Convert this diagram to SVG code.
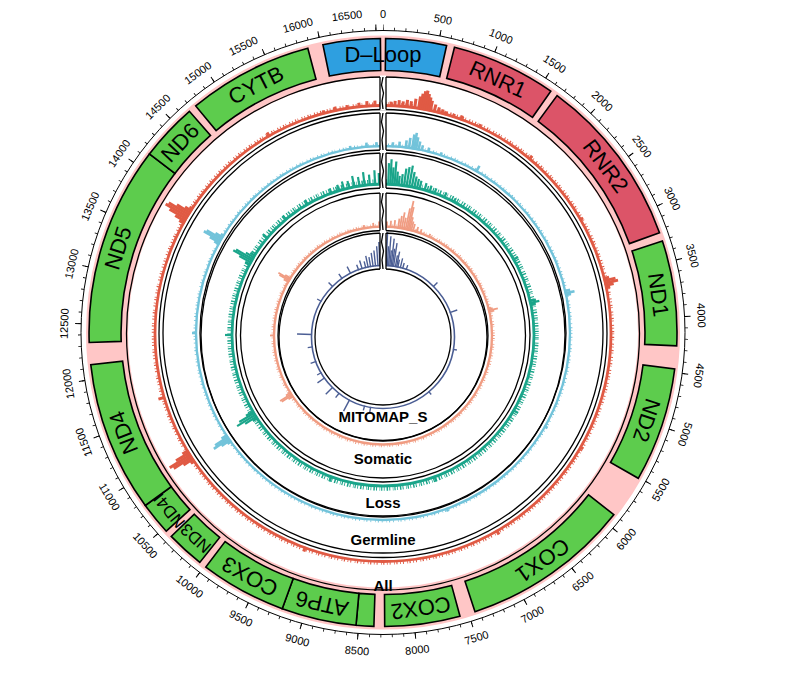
<svg xmlns="http://www.w3.org/2000/svg" width="809" height="673" viewBox="0 0 809 673">
<style>
text{font-family:"Liberation Sans",Arial,sans-serif;fill:#000}
.gene{stroke:#000;stroke-width:1.6}
.g{fill:#5dcc4d}.r{fill:#dc5468}.b{fill:#2e9fe0}
.gl{font-size:22px;text-anchor:middle;dominant-baseline:central}
.gs{font-size:17px;text-anchor:middle;dominant-baseline:central}
.tl{font-size:11px;text-anchor:middle;dominant-baseline:central}
.trk{fill:none;stroke:#000;stroke-width:1.3}
.lab{font-size:15px;font-weight:bold;text-anchor:middle}
.c1{stroke:#e05a44;fill:none}.c2{stroke:#72c3da;fill:none}.c3{stroke:#1aa58a;fill:none}.c4{stroke:#f09c82;fill:none}.c5{stroke:#4b5e94;fill:none}
.b1 path{stroke:#e05a44;stroke-width:3}.b2 path{stroke:#72c3da;stroke-width:2.6}.b3 path{stroke:#1aa58a;stroke-width:2.2}.b4 path{stroke:#f09c82;stroke-width:1.8}.b5 path{stroke:#4b5e94;stroke-width:1.4}
.gap{fill:#fff}
.edge{stroke:#000;stroke-width:1.3;fill:none}
</style>
<rect width="809" height="673" fill="#fff"/>

<g id="ticks" transform="translate(383,332.5)">
<circle r="276" fill="none" stroke="#ffc6c6" stroke-width="42"/>
<circle r="302" fill="none" stroke="#000" stroke-width="1"/>
<circle r="303.5" fill="none" stroke="#000" stroke-width="3" stroke-dasharray="0.8 10.709" stroke-dashoffset="0.4" transform="rotate(-90)"/>
<circle r="305" fill="none" stroke="#000" stroke-width="6" stroke-dasharray="1 56.83" stroke-dashoffset="0.5" transform="rotate(-90)"/>
<text class="tl" transform="rotate(0) translate(0,-319)">0</text>
<text class="tl" transform="rotate(10.86) translate(0,-319)">500</text>
<text class="tl" transform="rotate(21.73) translate(0,-319)">1000</text>
<text class="tl" transform="rotate(32.59) translate(0,-319)">1500</text>
<text class="tl" transform="rotate(43.45) translate(0,-319)">2000</text>
<text class="tl" transform="rotate(54.32) translate(0,-319)">2500</text>
<text class="tl" transform="rotate(65.18) translate(0,-319)">3000</text>
<text class="tl" transform="rotate(76.05) translate(0,-319)">3500</text>
<text class="tl" transform="rotate(86.91) translate(0,-319)">4000</text>
<text class="tl" transform="rotate(97.77) translate(0,-319)">4500</text>
<text class="tl" transform="rotate(108.64) translate(0,-319)">5000</text>
<text class="tl" transform="rotate(119.5) translate(0,-319) rotate(180)">5500</text>
<text class="tl" transform="rotate(130.36) translate(0,-319) rotate(180)">6000</text>
<text class="tl" transform="rotate(141.23) translate(0,-319) rotate(180)">6500</text>
<text class="tl" transform="rotate(152.09) translate(0,-319) rotate(180)">7000</text>
<text class="tl" transform="rotate(162.95) translate(0,-319) rotate(180)">7500</text>
<text class="tl" transform="rotate(173.82) translate(0,-319) rotate(180)">8000</text>
<text class="tl" transform="rotate(184.68) translate(0,-319) rotate(180)">8500</text>
<text class="tl" transform="rotate(195.55) translate(0,-319) rotate(180)">9000</text>
<text class="tl" transform="rotate(206.41) translate(0,-319) rotate(180)">9500</text>
<text class="tl" transform="rotate(217.27) translate(0,-319) rotate(180)">10000</text>
<text class="tl" transform="rotate(228.14) translate(0,-319) rotate(180)">10500</text>
<text class="tl" transform="rotate(239.0) translate(0,-319) rotate(180)">11000</text>
<text class="tl" transform="rotate(249.86) translate(0,-319)">11500</text>
<text class="tl" transform="rotate(260.73) translate(0,-319)">12000</text>
<text class="tl" transform="rotate(271.59) translate(0,-319)">12500</text>
<text class="tl" transform="rotate(282.45) translate(0,-319)">13000</text>
<text class="tl" transform="rotate(293.32) translate(0,-319)">13500</text>
<text class="tl" transform="rotate(304.18) translate(0,-319)">14000</text>
<text class="tl" transform="rotate(315.05) translate(0,-319)">14500</text>
<text class="tl" transform="rotate(324.5) translate(0,-319)">15000</text>
<text class="tl" transform="rotate(334) translate(0,-319)">15500</text>
<text class="tl" transform="rotate(344.5) translate(0,-319)">16000</text>
<text class="tl" transform="rotate(353.5) translate(0,-319)">16500</text>
</g>

<g id="genes" transform="translate(383,332.5)">
<g id="gene-dloop"><path class="gene b" d="M-60.1,-287.8A294,294 0 0 1 -2.6,-294L-2.3,-262A262,262 0 0 0 -53.6,-256.5Z"/><path class="gene b" d="M2.6,-294A294,294 0 0 1 63.6,-287L56.7,-255.8A262,262 0 0 0 2.3,-262Z"/><text class="gl" transform="translate(0,-278)">D–Loop</text></g>
<g id="gene-rnr1"><path class="gene r" d="M71.5,-285.2A294,294 0 0 1 167.8,-241.4L149.5,-215.2A262,262 0 0 0 63.7,-254.1Z"/><text class="gl" transform="rotate(24.4) translate(0,-278)">RNR1</text></g>
<g id="gene-rnr2"><path class="gene r" d="M174.1,-236.9A294,294 0 0 1 276.5,-99.8L246.4,-88.9A262,262 0 0 0 155.2,-211.1Z"/><text class="gl" transform="rotate(53.2) translate(0,-278)">RNR2</text></g>
<g id="gene-nd1"><path class="gene g" d="M279.4,-91.6A294,294 0 0 1 293.7,13.3L261.7,11.9A262,262 0 0 0 249,-81.6Z"/><text class="gl" transform="rotate(82.2) translate(0,-278)">ND1</text></g>
<g id="gene-nd2"><path class="gene g" d="M291.7,36.5A294,294 0 0 1 255.3,145.8L227.5,130A262,262 0 0 0 260,32.5Z"/><text class="gl" transform="rotate(108.4) translate(0,-278)">ND2</text></g>
<g id="gene-cox1"><path class="gene g" d="M230.8,182.2A294,294 0 0 1 92,279.2L82,248.8A262,262 0 0 0 205.6,162.3Z"/><text class="gl" transform="rotate(145) translate(0,-278)">COX1</text></g>
<g id="gene-cox2"><path class="gene g" d="M77,283.7A294,294 0 0 1 1.7,294L1.5,262A262,262 0 0 0 68.6,252.9Z"/><text class="gl" transform="rotate(172.2) translate(0,-278)">COX2</text></g>
<g id="gene-atp8"><path class="gene g" d="M-9.1,293.9A294,294 0 0 1 -27,292.8L-24.1,260.9A262,262 0 0 0 -8.1,261.9Z"/></g>
<g id="gene-atp6"><path class="gene g" d="M-27,292.8A294,294 0 0 1 -100.8,276.2L-89.8,246.1A262,262 0 0 0 -24.1,260.9Z"/><text class="gl" transform="rotate(192.7) translate(0,-278)">ATP6</text></g>
<g id="gene-cox3"><path class="gene g" d="M-100.8,276.2A294,294 0 0 1 -177.2,234.6L-157.9,209.1A262,262 0 0 0 -89.8,246.1Z"/><text class="gl" transform="rotate(208.6) translate(0,-278)">COX3</text></g>
<g id="gene-nd3"><path class="gene g" d="M-183.2,229.9A294,294 0 0 1 -211.8,203.9L-188.7,181.7A262,262 0 0 0 -163.3,204.9Z"/><text class="gs" transform="rotate(222.3) translate(0,-278)">ND3</text></g>
<g id="gene-nd4l"><path class="gene g" d="M-216.7,198.7A294,294 0 0 1 -237.7,173L-211.8,154.2A262,262 0 0 0 -193.1,177.1Z"/><text class="gs" transform="rotate(230.7) translate(0,-278)">ND4L</text></g>
<g id="gene-nd4"><path class="gene g" d="M-237.7,173A294,294 0 0 1 -292.2,32.3L-260.4,28.7A262,262 0 0 0 -211.8,154.2Z"/><text class="gl" transform="rotate(248.9) translate(0,-278)">ND4</text></g>
<g id="gene-nd5"><path class="gene g" d="M-293.8,10A294,294 0 0 1 -233.6,-178.6L-208.1,-159.1A262,262 0 0 0 -261.8,8.9Z"/><text class="gl" transform="rotate(287.7) translate(0,-278)">ND5</text></g>
<g id="gene-nd6"><path class="gene g" d="M-233.6,-178.6A294,294 0 0 1 -193.6,-221.2L-172.5,-197.1A262,262 0 0 0 -208.1,-159.1Z"/><text class="gl" transform="rotate(313.1) translate(0,-278)">ND6</text></g>
<g id="gene-cytb"><path class="gene g" d="M-187.3,-226.6A294,294 0 0 1 -75.2,-284.2L-67,-253.3A262,262 0 0 0 -166.9,-201.9Z"/><text class="gl" transform="rotate(332.8) translate(0,-278)">CYTB</text></g>
</g>

<g id="track-all" transform="translate(383,333.5)">
<circle class="c1" r="228" stroke-width="2.8"/>
<circle class="c1" r="230" stroke-width="2.5" stroke-dasharray="0.8 2.5 1.2 1.5 0.7 3.5 1 2"/>
<g class="b1">
<path transform="rotate(345)" d="M0-227v-4"/><path transform="rotate(348)" d="M0-227v-5"/><path transform="rotate(351)" d="M0-227v-4"/><path transform="rotate(354)" d="M0-227v-5"/><path transform="rotate(356)" d="M0-227v-6"/><path transform="rotate(358)" d="M0-227v-6"/>
<path transform="rotate(2)" d="M0-227v-5"/><path transform="rotate(3)" d="M0-227v-6"/><path transform="rotate(4)" d="M0-227v-7"/><path transform="rotate(5)" d="M0-227v-6"/><path transform="rotate(6)" d="M0-227v-8"/><path transform="rotate(7)" d="M0-227v-7"/><path transform="rotate(8)" d="M0-227v-10"/><path transform="rotate(9)" d="M0-227v-13"/><path transform="rotate(9.5)" d="M0-227v-16"/><path transform="rotate(10)" d="M0-227v-19"/><path transform="rotate(10.5)" d="M0-227v-20"/><path transform="rotate(11)" d="M0-227v-17"/><path transform="rotate(11.5)" d="M0-227v-14"/><path transform="rotate(12)" d="M0-227v-11"/><path transform="rotate(13)" d="M0-227v-8"/><path transform="rotate(14)" d="M0-227v-6"/><path transform="rotate(15)" d="M0-227v-5"/><path transform="rotate(16)" d="M0-227v-4"/><path transform="rotate(18)" d="M0-227v-4"/><path transform="rotate(20)" d="M0-227v-5"/><path transform="rotate(25)" d="M0-227v-4"/>
<path transform="rotate(76)" d="M0-227v-6"/><path transform="rotate(76.6)" d="M0-227v-12"/><path transform="rotate(77.2)" d="M0-227v-14"/><path transform="rotate(77.8)" d="M0-227v-9"/><path transform="rotate(78.4)" d="M0-227v-5"/>
<path transform="rotate(299)" d="M0-227v-6"/><path transform="rotate(299.6)" d="M0-227v-12"/><path transform="rotate(300.2)" d="M0-227v-20"/><path transform="rotate(300.8)" d="M0-227v-26"/><path transform="rotate(301.4)" d="M0-227v-24"/><path transform="rotate(302)" d="M0-227v-16"/><path transform="rotate(302.6)" d="M0-227v-8"/><path transform="rotate(303.2)" d="M0-227v-4"/>
<path transform="rotate(236)" d="M0-227v-5"/><path transform="rotate(236.6)" d="M0-227v-12"/><path transform="rotate(237.2)" d="M0-227v-22"/><path transform="rotate(237.8)" d="M0-227v-25"/><path transform="rotate(238.4)" d="M0-227v-16"/><path transform="rotate(239)" d="M0-227v-7"/>
<path transform="rotate(253.7)" d="M0-227v-7"/><path transform="rotate(150)" d="M0-227v-5"/><path transform="rotate(120)" d="M0-227v-4"/><path transform="rotate(200)" d="M0-227v-5"/><path transform="rotate(330)" d="M0-227v-5"/><path transform="rotate(40)" d="M0-227v-5"/><path transform="rotate(60)" d="M0-227v-4"/>
</g>
<circle class="trk" r="256.5"/><circle class="trk" r="224"/>
<rect class="gap" x="-3" y="-258" width="6" height="35"/>
<path class="edge" d="M-3-256.5V-224M3-256.5V-224M0-256.5l-1.5 8l2 8l-1.5 8l1 8"/>
<text class="lab" x="0" y="257">All</text>
</g>

<g id="track-germline" transform="translate(383,333)">
<circle class="c2" r="187" stroke-width="2.4"/>
<circle class="c2" r="188.5" stroke-width="2" stroke-dasharray="0.8 3 1 2 0.6 4"/>
<g class="b2">
<path transform="rotate(350)" d="M0-186v-4"/><path transform="rotate(355)" d="M0-186v-5"/><path transform="rotate(358)" d="M0-186v-5"/><path transform="rotate(3)" d="M0-186v-5"/><path transform="rotate(5)" d="M0-186v-6"/><path transform="rotate(7)" d="M0-186v-8"/><path transform="rotate(8)" d="M0-186v-11"/><path transform="rotate(9)" d="M0-186v-15"/><path transform="rotate(9.6)" d="M0-186v-17"/><path transform="rotate(10.2)" d="M0-186v-13"/><path transform="rotate(11)" d="M0-186v-9"/><path transform="rotate(12)" d="M0-186v-6"/><path transform="rotate(14)" d="M0-186v-5"/><path transform="rotate(18)" d="M0-186v-4"/><path transform="rotate(30)" d="M0-186v-7"/>
<path transform="rotate(77)" d="M0-186v-6"/><path transform="rotate(77.7)" d="M0-186v-10"/><path transform="rotate(78.3)" d="M0-186v-6"/>
<path transform="rotate(298.5)" d="M0-186v-6"/><path transform="rotate(299)" d="M0-186v-12"/><path transform="rotate(299.6)" d="M0-186v-20"/><path transform="rotate(300.2)" d="M0-186v-18"/><path transform="rotate(300.8)" d="M0-186v-9"/><path transform="rotate(301.4)" d="M0-186v-4"/>
<path transform="rotate(234.5)" d="M0-186v-5"/><path transform="rotate(235)" d="M0-186v-11"/><path transform="rotate(235.6)" d="M0-186v-19"/><path transform="rotate(236.2)" d="M0-186v-16"/><path transform="rotate(236.8)" d="M0-186v-7"/>
<path transform="rotate(270)" d="M0-186v-5"/><path transform="rotate(120)" d="M0-186v-4"/><path transform="rotate(160)" d="M0-186v-4"/>
</g>
<circle class="trk" r="220"/><circle class="trk" r="183"/>
<rect class="gap" x="-3" y="-221.5" width="6" height="40"/>
<path class="edge" d="M-3-220V-183M3-220V-183M0-220l-1.5 9l2 9l-1.5 9l1 10"/>
<text class="lab" x="0" y="212">Germline</text>
</g>

<g id="track-loss" transform="translate(383,335)">
<circle class="c3" r="151" stroke-width="2.8"/>
<circle class="c3" r="153.5" stroke-width="4.5" stroke-dasharray="0.8 1.5 1.2 1 0.6 2.5 1 1.2 1.5 2"/>
<g class="b3">
<path transform="rotate(310)" d="M0-150v-7"/><path transform="rotate(320)" d="M0-150v-6"/><path transform="rotate(330)" d="M0-150v-6"/><path transform="rotate(340)" d="M0-150v-6"/><path transform="rotate(343)" d="M0-150v-7"/><path transform="rotate(345)" d="M0-150v-9"/><path transform="rotate(347)" d="M0-150v-8"/><path transform="rotate(349)" d="M0-150v-12"/><path transform="rotate(351)" d="M0-150v-10"/><path transform="rotate(353)" d="M0-150v-14"/><path transform="rotate(355)" d="M0-150v-11"/><path transform="rotate(357)" d="M0-150v-15"/><path transform="rotate(358.5)" d="M0-150v-12"/>
<path transform="rotate(2)" d="M0-150v-22"/><path transform="rotate(2.8)" d="M0-150v-26"/><path transform="rotate(3.6)" d="M0-150v-18"/><path transform="rotate(4.4)" d="M0-150v-24"/><path transform="rotate(5.2)" d="M0-150v-14"/><path transform="rotate(6)" d="M0-150v-10"/><path transform="rotate(7)" d="M0-150v-12"/><path transform="rotate(8)" d="M0-150v-18"/><path transform="rotate(9)" d="M0-150v-20"/><path transform="rotate(10)" d="M0-150v-22"/><path transform="rotate(11)" d="M0-150v-16"/><path transform="rotate(12)" d="M0-150v-12"/><path transform="rotate(13)" d="M0-150v-10"/><path transform="rotate(14)" d="M0-150v-9"/><path transform="rotate(16)" d="M0-150v-8"/><path transform="rotate(18)" d="M0-150v-7"/><path transform="rotate(20)" d="M0-150v-6"/><path transform="rotate(24)" d="M0-150v-6"/><path transform="rotate(28)" d="M0-150v-5"/>
<path transform="rotate(298)" d="M0-150v-6"/><path transform="rotate(298.8)" d="M0-150v-14"/><path transform="rotate(299.5)" d="M0-150v-22"/><path transform="rotate(300.2)" d="M0-150v-20"/><path transform="rotate(301)" d="M0-150v-10"/><path transform="rotate(301.8)" d="M0-150v-6"/>
<path transform="rotate(236.5)" d="M0-150v-6"/><path transform="rotate(237.2)" d="M0-150v-14"/><path transform="rotate(238)" d="M0-150v-22"/><path transform="rotate(238.8)" d="M0-150v-18"/><path transform="rotate(239.5)" d="M0-150v-9"/>
<path transform="rotate(270)" d="M0-150v-8"/><path transform="rotate(77)" d="M0-150v-7"/><path transform="rotate(77.7)" d="M0-150v-10"/><path transform="rotate(78.3)" d="M0-150v-6"/><path transform="rotate(200)" d="M0-150v-6"/><path transform="rotate(160)" d="M0-150v-6"/><path transform="rotate(120)" d="M0-150v-6"/><path transform="rotate(60)" d="M0-150v-6"/>
</g>
<circle class="trk" r="182"/><circle class="trk" r="147"/>
<rect class="gap" x="-3" y="-183.5" width="6" height="38"/>
<path class="edge" d="M-3-182V-147M3-182V-147M0-182l-1.5 9l2 9l-1.5 9l1 8"/>
<text class="lab" x="0" y="173">Loss</text>
</g>

<g id="track-somatic" transform="translate(383,335.5)">
<circle class="c4" r="109" stroke-width="2.4"/>
<circle class="c4" r="110.5" stroke-width="2.5" stroke-dasharray="0.6 2 1 1.5 0.5 3"/>
<g class="b4">
<path transform="rotate(350)" d="M0-108v-4"/><path transform="rotate(355)" d="M0-108v-5"/><path transform="rotate(358)" d="M0-108v-6"/><path transform="rotate(2)" d="M0-108v-6"/><path transform="rotate(4)" d="M0-108v-7"/><path transform="rotate(6)" d="M0-108v-8"/><path transform="rotate(8)" d="M0-108v-10"/><path transform="rotate(9)" d="M0-108v-13"/><path transform="rotate(10)" d="M0-108v-17"/><path transform="rotate(11)" d="M0-108v-12"/><path transform="rotate(12)" d="M0-108v-22"/><path transform="rotate(12.8)" d="M0-108v-30"/><path transform="rotate(13.5)" d="M0-108v-24"/><path transform="rotate(14.2)" d="M0-108v-14"/><path transform="rotate(15)" d="M0-108v-10"/><path transform="rotate(16)" d="M0-108v-8"/><path transform="rotate(18)" d="M0-108v-6"/><path transform="rotate(20)" d="M0-108v-5"/><path transform="rotate(25)" d="M0-108v-4"/>
<path transform="rotate(299.5)" d="M0-108v-6"/><path transform="rotate(300.3)" d="M0-108v-12"/><path transform="rotate(301)" d="M0-108v-14"/><path transform="rotate(301.8)" d="M0-108v-7"/>
<path transform="rotate(236)" d="M0-108v-6"/><path transform="rotate(236.8)" d="M0-108v-13"/><path transform="rotate(237.5)" d="M0-108v-14"/><path transform="rotate(238.3)" d="M0-108v-6"/>
<path transform="rotate(76)" d="M0-108v-5"/><path transform="rotate(76.7)" d="M0-108v-10"/><path transform="rotate(77.4)" d="M0-108v-6"/><path transform="rotate(270)" d="M0-108v-5"/>
</g>
<circle class="trk" r="142.5"/><circle class="trk" r="105"/>
<rect class="gap" x="-3" y="-144" width="6" height="40.5"/>
<path class="edge" d="M-3-142.5V-105M3-142.5V-105M0-142.5l-1.5 9l2 9l-1.5 9l1 10"/>
<text class="lab" x="0" y="128">Somatic</text>
</g>

<g id="track-mitomap" transform="translate(383,337)">
<circle class="c5" r="71.5" stroke-width="1.6"/>
<g class="b5">
<path transform="rotate(325)" d="M0-71v-6"/><path transform="rotate(333)" d="M0-71v-8"/><path transform="rotate(340)" d="M0-71v-6"/><path transform="rotate(343)" d="M0-71v-9"/><path transform="rotate(346)" d="M0-71v-7"/><path transform="rotate(348)" d="M0-71v-12"/><path transform="rotate(350)" d="M0-71v-10"/><path transform="rotate(352)" d="M0-71v-14"/><path transform="rotate(354)" d="M0-71v-16"/><path transform="rotate(356)" d="M0-71v-20"/><path transform="rotate(357.5)" d="M0-71v-24"/><path transform="rotate(359)" d="M0-71v-18"/>
<path transform="rotate(1.5)" d="M0-71v-26"/><path transform="rotate(2.5)" d="M0-71v-34"/><path transform="rotate(3.5)" d="M0-71v-20"/><path transform="rotate(4.5)" d="M0-71v-30"/><path transform="rotate(5.5)" d="M0-71v-16"/><path transform="rotate(6.5)" d="M0-71v-28"/><path transform="rotate(7.5)" d="M0-71v-18"/><path transform="rotate(8.5)" d="M0-71v-24"/><path transform="rotate(10)" d="M0-71v-12"/><path transform="rotate(11)" d="M0-71v-16"/><path transform="rotate(12)" d="M0-71v-8"/><path transform="rotate(14)" d="M0-71v-10"/><path transform="rotate(16)" d="M0-71v-6"/><path transform="rotate(19)" d="M0-71v-5"/>
<path transform="rotate(272)" d="M0-71v-15"/><path transform="rotate(262)" d="M0-71v-5"/><path transform="rotate(250)" d="M0-71v-6"/><path transform="rotate(240)" d="M0-71v-5"/><path transform="rotate(235)" d="M0-71v-9"/><path transform="rotate(225)" d="M0-71v-10"/><path transform="rotate(218)" d="M0-71v-6"/><path transform="rotate(208)" d="M0-71v-13"/><path transform="rotate(195)" d="M0-71v-5"/><path transform="rotate(190)" d="M0-71v-6"/><path transform="rotate(70)" d="M0-71v-8"/><path transform="rotate(45)" d="M0-71v-6"/><path transform="rotate(100)" d="M0-71v-4"/><path transform="rotate(140)" d="M0-71v-4"/><path transform="rotate(300)" d="M0-71v-5"/><path transform="rotate(315)" d="M0-71v-6"/>
</g>
<circle class="trk" r="104"/><circle class="trk" r="68"/>
<rect class="gap" x="-3" y="-105.5" width="6" height="39"/>
<path class="edge" d="M-3-104V-68M3-104V-68M0-104l-1.5 9l2 9l-1.5 9l1 9"/>
<text class="lab" x="0" y="85">MITOMAP_S</text>
</g>
</svg>
